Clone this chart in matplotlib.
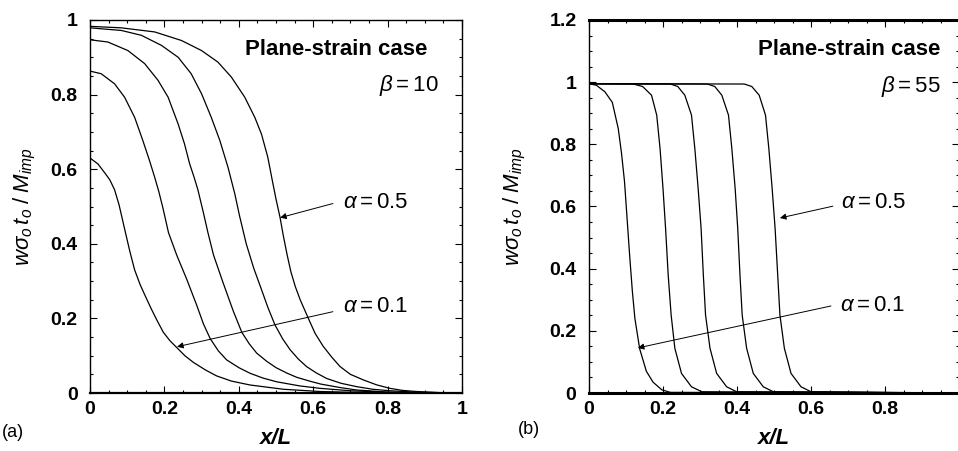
import numpy as np
import matplotlib
matplotlib.use("Agg")
import matplotlib.pyplot as plt
from matplotlib.ticker import MultipleLocator, FuncFormatter

plt.rcParams['font.family'] = ['Liberation Sans', 'DejaVu Sans']
plt.rcParams['mathtext.fontset'] = 'custom'
plt.rcParams['mathtext.rm'] = 'Liberation Sans'
plt.rcParams['mathtext.it'] = 'Liberation Sans:italic'
plt.rcParams['mathtext.bf'] = 'Liberation Sans:bold'

# ---- panel (a): beta = 10, curves for alpha = 0.1 ... 0.5
a_x01 = [0, 0.0215, 0.039, 0.053, 0.066, 0.078, 0.093, 0.107, 0.12, 0.135, 0.15, 0.165, 0.18, 0.197, 0.215, 0.233,
         0.255, 0.278, 0.31, 0.34, 0.38, 0.43, 0.52, 0.618, 0.7, 0.8, 0.9, 1.0]
a_y01 = [0.63, 0.614, 0.591, 0.572, 0.545, 0.505, 0.44, 0.38, 0.33, 0.29, 0.257, 0.225, 0.195, 0.163, 0.14, 0.122,
         0.1, 0.082, 0.062, 0.046, 0.032, 0.0215, 0.01, 0.004, 0.002, 0.0008, 0.0002, 0]

a_x02 = [0, 0.03, 0.066, 0.093, 0.12, 0.142, 0.16, 0.174, 0.185, 0.196, 0.211, 0.233, 0.26, 0.287, 0.305, 0.323,
         0.345, 0.367, 0.40, 0.43, 0.465, 0.502, 0.564, 0.618, 0.7, 0.8, 0.9, 1.0]
a_y02 = [0.863, 0.856, 0.829, 0.793, 0.739, 0.677, 0.623, 0.578, 0.54, 0.496, 0.43, 0.37, 0.305, 0.235, 0.185, 0.146,
         0.113, 0.089, 0.068, 0.053, 0.04, 0.03, 0.019, 0.0125, 0.006, 0.002, 0.0005, 0]

a_x03 = [0, 0.048, 0.102, 0.147, 0.183, 0.21, 0.237, 0.254, 0.268, 0.28, 0.29, 0.304, 0.317, 0.332, 0.358, 0.385,
         0.408, 0.428, 0.448, 0.475, 0.50, 0.53, 0.556, 0.59, 0.62, 0.67, 0.717, 0.806, 0.9, 1.0]
a_y03 = [0.947, 0.941, 0.918, 0.883, 0.838, 0.793, 0.721, 0.668, 0.614, 0.578, 0.545, 0.487, 0.43, 0.37, 0.295, 0.22,
         0.163, 0.132, 0.107, 0.085, 0.068, 0.053, 0.042, 0.032, 0.024, 0.015, 0.008, 0.002, 0.0005, 0]

a_x04 = [0, 0.084, 0.138, 0.192, 0.237, 0.272, 0.3, 0.326, 0.349, 0.371, 0.389, 0.402, 0.42, 0.44, 0.46, 0.478,
         0.497, 0.518, 0.538, 0.56, 0.582, 0.608, 0.636, 0.675, 0.717, 0.76, 0.806, 0.878, 1.0]
a_y04 = [0.979, 0.972, 0.959, 0.932, 0.9, 0.856, 0.802, 0.739, 0.677, 0.605, 0.535, 0.475, 0.40, 0.335, 0.28, 0.23,
         0.183, 0.145, 0.116, 0.091, 0.071, 0.054, 0.039, 0.026, 0.017, 0.01, 0.006, 0.002, 0]

a_x05 = [0, 0.084, 0.174, 0.246, 0.3, 0.344, 0.38, 0.416, 0.443, 0.461, 0.478, 0.49, 0.50, 0.511, 0.52, 0.53, 0.54,
         0.552, 0.565, 0.587, 0.605, 0.627, 0.65, 0.672, 0.70, 0.735, 0.77, 0.806, 0.84, 0.878, 0.94, 1.0]
a_y05 = [0.983, 0.979, 0.968, 0.945, 0.918, 0.887, 0.847, 0.793, 0.739, 0.694, 0.632, 0.57, 0.52, 0.47, 0.42, 0.37,
         0.325, 0.285, 0.25, 0.2, 0.16, 0.125, 0.096, 0.071, 0.05, 0.035, 0.022, 0.0125, 0.007, 0.004, 0.001, 0]

# ---- panel (b): beta = 55
b_x01 = [0, 0.02, 0.043, 0.063, 0.079, 0.088, 0.096, 0.103, 0.11, 0.117, 0.124, 0.137, 0.155, 0.173, 0.197, 0.22, 1.0]
b_y01 = [0.995, 0.99, 0.969, 0.935, 0.851, 0.77, 0.68, 0.56, 0.44, 0.33, 0.24, 0.142, 0.07, 0.035, 0.01, 0.002, 0]

b_x02 = [0, 0.12, 0.145, 0.169, 0.183, 0.192, 0.2, 0.207, 0.214, 0.222, 0.232, 0.25, 0.277, 0.305, 1.0]
b_y02 = [0.995, 0.994, 0.986, 0.958, 0.894, 0.787, 0.658, 0.529, 0.38, 0.251, 0.144, 0.063, 0.02, 0.004, 0]

b_x03 = [0, 0.22, 0.24, 0.259, 0.277, 0.286, 0.295, 0.303, 0.309, 0.315, 0.327, 0.345, 0.372, 0.399, 1.0]
b_y03 = [0.995, 0.994, 0.986, 0.958, 0.894, 0.787, 0.658, 0.529, 0.38, 0.251, 0.144, 0.063, 0.02, 0.004, 0]

b_x04 = [0, 0.32, 0.34, 0.359, 0.377, 0.386, 0.395, 0.402, 0.408, 0.414, 0.426, 0.444, 0.471, 0.498, 1.0]
b_y04 = [0.995, 0.994, 0.986, 0.958, 0.894, 0.787, 0.658, 0.529, 0.38, 0.251, 0.144, 0.063, 0.02, 0.004, 0]

b_x05 = [0, 0.42, 0.44, 0.46, 0.477, 0.486, 0.495, 0.503, 0.51, 0.516, 0.528, 0.546, 0.573, 0.6, 1.0]
b_y05 = [0.995, 0.994, 0.986, 0.958, 0.894, 0.787, 0.658, 0.529, 0.38, 0.251, 0.144, 0.063, 0.02, 0.004, 0]

curves_a = [(a_x01, a_y01), (a_x02, a_y02), (a_x03, a_y03), (a_x04, a_y04), (a_x05, a_y05)]
curves_b = [(b_x01, b_y01), (b_x02, b_y02), (b_x03, b_y03), (b_x04, b_y04), (b_x05, b_y05)]

fig = plt.figure(figsize=(9.58, 4.51), dpi=100)
W, H = 958.0, 451.0
ax1 = fig.add_axes([90 / W, 58 / H, 372 / W, 373 / H])
ax2 = fig.add_axes([589 / W, 58 / H, 370 / W, 373 / H])

fmt = FuncFormatter(lambda v, p: "%g" % round(v, 2))


def style(ax, ymax):
    ax.set_xlim(0, 1)
    ax.set_ylim(0, ymax)
    ax.xaxis.set_major_locator(MultipleLocator(0.2))
    ax.xaxis.set_minor_locator(MultipleLocator(0.05))
    ax.yaxis.set_major_locator(MultipleLocator(0.2))
    ax.yaxis.set_minor_locator(MultipleLocator(0.05))
    ax.xaxis.set_major_formatter(fmt)
    ax.yaxis.set_major_formatter(fmt)
    ax.tick_params(which='both', direction='in', top=True, right=True, width=0.8)
    ax.tick_params(which='major', length=5)
    ax.tick_params(which='minor', length=2.5)
    ax.tick_params(axis='y', pad=9, labelsize=14)
    ax.tick_params(axis='x', pad=6, labelsize=14)
    for lab in ax.get_xticklabels() + ax.get_yticklabels():
        lab.set_fontweight('bold')
    for s in ax.spines.values():
        s.set_linewidth(1.0)
    ax.set_xlabel('x/L', fontsize=16, fontstyle='italic', fontweight='bold')
    ax.xaxis.label.set_va('center')
    ax.set_ylabel(r'$w\sigma_o\,t_o\;/\;M_{imp}$', fontsize=16)


style(ax1, 1.0)
style(ax2, 1.2)
ax1.spines['bottom'].set_linewidth(1.6)
ax2.spines['bottom'].set_linewidth(2.2)
ax2.spines['top'].set_linewidth(2.2)
ax2.set_xticks([0, 0.2, 0.4, 0.6, 0.8, 1.0])
ax2.set_xticklabels(['0', '0.2', '0.4', '0.6', '0.8', ''], fontweight='bold')

# x/L sits right at the bottom edge, as in the original
ax1.xaxis.set_label_coords(0.5, -0.122)
ax2.xaxis.set_label_coords(0.5, -0.122)
ax1.yaxis.set_label_coords(-0.14, 0.5)
ax2.yaxis.set_label_coords(-0.165, 0.5)

for x, y in curves_a:
    ax1.plot(x, y, color='black', lw=0.9)
for x, y in curves_b:
    ax2.plot(x, y, color='black', lw=0.9)

arrow = dict(arrowstyle='-|>', color='black', lw=0.7, mutation_scale=9, shrinkA=0, shrinkB=0)

ax1.text(0.906, 0.922, 'Plane-strain case', ha='right', va='center', fontsize=16, fontweight='bold')
ax1.text(0.938, 0.825, r'$\beta = 10$', ha='right', va='center', fontsize=16)
ax1.text(0.68, 0.511, r'$\alpha = 0.5$', ha='left', va='center', fontsize=16)
ax1.text(0.68, 0.231, r'$\alpha = 0.1$', ha='left', va='center', fontsize=16)
ax1.annotate('', xy=(0.511, 0.47), xytext=(0.653, 0.508), arrowprops=arrow)
ax1.annotate('', xy=(0.234, 0.124), xytext=(0.653, 0.218), arrowprops=arrow)

ax2.text(0.951, 1.106, 'Plane-strain case', ha='right', va='center', fontsize=16, fontweight='bold')
ax2.text(0.951, 0.987, r'$\beta = 55$', ha='right', va='center', fontsize=16)
ax2.text(0.681, 0.614, r'$\alpha = 0.5$', ha='left', va='center', fontsize=16)
ax2.text(0.678, 0.283, r'$\alpha = 0.1$', ha='left', va='center', fontsize=16)
ax2.annotate('', xy=(0.516, 0.563), xytext=(0.659, 0.601), arrowprops=arrow)
ax2.annotate('', xy=(0.132, 0.145), xytext=(0.654, 0.28), arrowprops=arrow)

fig.text(0.002, 0.04, '(a)', ha='left', va='center', fontsize=13)
fig.text(0.541, 0.047, '(b)', ha='left', va='center', fontsize=13)

fig.savefig('out.png', dpi=100)
